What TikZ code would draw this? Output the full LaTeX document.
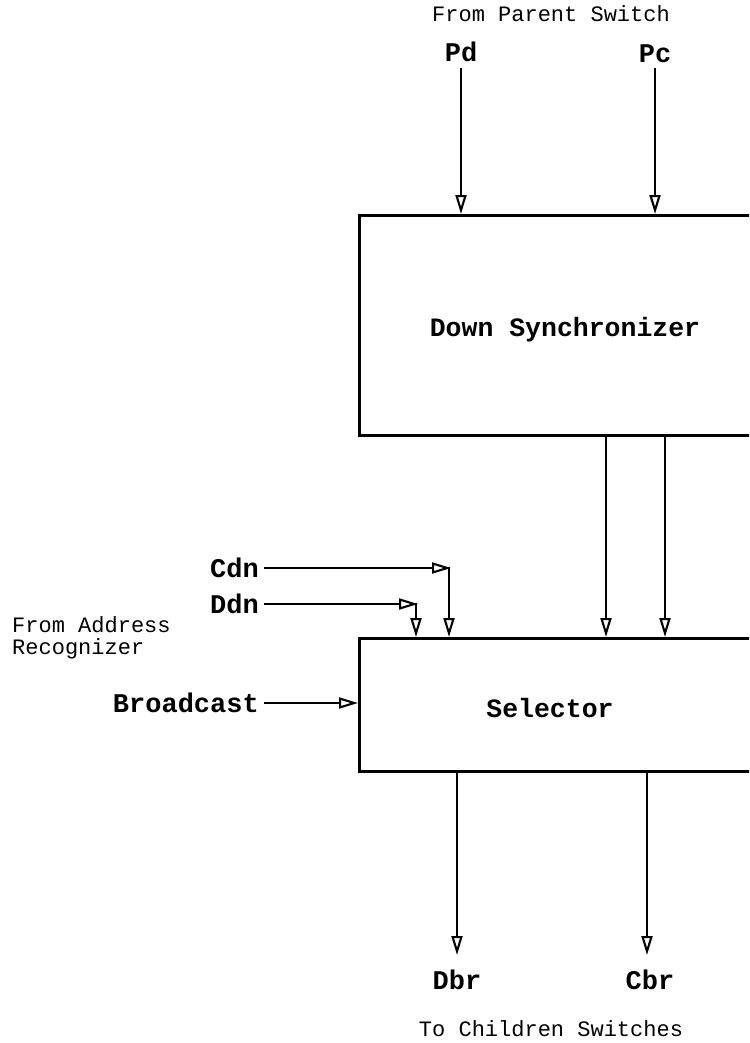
\documentclass[tikz,border=0pt]{standalone}
\usepackage{fontspec}
\setmonofont{Liberation Mono}
\usetikzlibrary{arrows.meta,positioning,calc}

\begin{document}
\begin{tikzpicture}[
    x=1pt, y=-1pt,
    blk/.style={draw, line width=2.7pt, anchor=north west, inner sep=0pt},
    blktext/.style={font=\fontsize{26.5}{30}\selectfont\ttfamily\bfseries},
    sig/.style={font=\fontsize{27}{30}\selectfont\ttfamily\bfseries, inner sep=1pt},
    note/.style={font=\fontsize{22}{22}\selectfont\ttfamily, align=left, inner sep=0pt},
    arr/.style={-{Triangle[open, length=19pt, width=11pt, line width=2.1pt]}, line width=2.6pt}
  ]
    \useasboundingbox (0,0) rectangle (749,1043);
    \clip (0,0) rectangle (749,1043);
    % blocks
    \node[blk, minimum width=420pt, minimum height=220pt] (ds) at (358,214) {};
    \node[blk, minimum width=420pt, minimum height=133pt] (sel) at (358,637) {};
    \node[blktext] (dstext) at (565,330) {Down Synchronizer};
    \node[blktext] (seltext) at (550,708) {Selector};
    % inputs from parent
    \node[note, anchor=base] (parent) at (551,22) {From Parent Switch};
    \node[sig] (pd) at (461,52) {Pd};
    \node[sig] (pc) at (655,54) {Pc};
    \draw[arr] (461,68) -- (pd |- ds.north);
    \draw[arr] (655,68) -- (pc |- ds.north);
    % synchronizer to selector
    \coordinate (ds1) at (606,434);
    \coordinate (ds2) at (665,434);
    \draw[arr] (ds1) -- (ds1 |- sel.north);
    \draw[arr] (ds2) -- (ds2 |- sel.north);
    % inputs from address recognizer
    \node[note, anchor=north west] (addr) at (12,616) {From Address\\Recognizer};
    \node[sig, anchor=east, inner xsep=5pt] (cdn) at (264,568) {Cdn};
    \node[sig, anchor=east, inner xsep=5pt] (ddn) at (264,604) {Ddn};
    \node[sig, anchor=east, inner xsep=5pt] (bc) at (264,703) {Broadcast};
    \coordinate (cdnbend) at (451,568);
    \coordinate (ddnbend) at (418,604);
    \draw[arr] (cdn) -- (cdnbend);
    \draw[arr] ($(cdnbend)+(-2,-1.3)$) -- ($(cdnbend |- sel.north)+(-2,0)$);
    \draw[arr] (ddn) -- (ddnbend);
    \draw[arr] ($(ddnbend)+(-2,-1.3)$) -- ($(ddnbend |- sel.north)+(-2,0)$);
    \draw[arr] (bc) -- (bc -| sel.west);
    % outputs to children
    \node[sig] (dbr) at (457,980) {Dbr};
    \node[sig] (cbr) at (650,980) {Cbr};
    \draw[arr] (457,770) -- (457,955);
    \draw[arr] (647,770) -- (647,955);
    \node[note, anchor=base] (child) at (551,1036) {To Children Switches};
\end{tikzpicture}
\end{document}
